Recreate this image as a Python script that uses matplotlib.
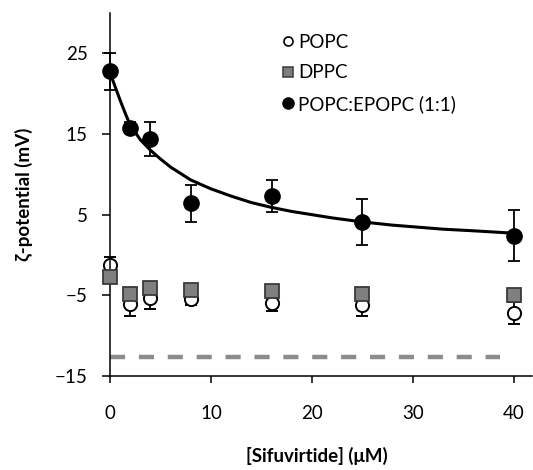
import matplotlib
matplotlib.use("Agg")
import matplotlib.pyplot as plt
from matplotlib.lines import Line2D

plt.rcParams['font.family'] = ['Lato', 'DejaVu Sans']

# peptide concentration (uM)
conc = [0, 2, 4, 8, 16, 25, 40]

# zeta potential (mV)
popc = [-1.2, -6.1, -5.3, -5.4, -6.0, -6.2, -7.2]
popc_err = [0.9, 1.5, 1.4, 0.8, 0.9, 1.3, 1.4]
dppc = [-2.7, -4.8, -4.1, -4.4, -4.5, -4.8, -5.0]
mix = [22.8, 15.8, 14.4, 6.4, 7.3, 4.1, 2.4]
mix_err = [2.3, 0.7, 2.1, 2.3, 2.0, 2.9, 3.2]

# fitted curve for POPC:EPOPC
fit_x = [0, 0.5, 1, 1.5, 2, 3, 4, 5, 6, 7, 8, 10, 12, 14, 16, 18, 20, 22, 25, 28, 30, 33, 36, 40]
fit_y = [22.6, 20.9, 19.2, 17.6, 16.1, 14.3, 13.0, 11.9, 10.9, 10.1, 9.3, 8.2, 7.3, 6.5, 5.9, 5.4, 5.0, 4.6, 4.1, 3.7, 3.5, 3.2, 3.0, 2.7]

# reference level (dashed)
ref_x = [0, 38.6]
ref_y = [-12.65, -12.65]

fig = plt.figure(figsize=(5.33, 4.7), dpi=100)
ax = fig.add_axes([110 / 533, 94 / 470, 422 / 533, 363 / 470])

ax.plot(ref_x, ref_y, color='#8c8c8c', lw=3.2, dashes=[3.4, 3.1], zorder=1)

ax.errorbar(conc, popc, yerr=popc_err, fmt='o', ms=9.5, mfc='white', mec='black',
            mew=1.4, ecolor='black', elinewidth=1.3, capsize=4.3, capthick=1.3,
            zorder=2, clip_on=False)
ax.plot(conc, dppc, 's', ms=9.5, mfc='#7f7f7f', mec='#3a3a3a', mew=1.3, zorder=3,
        clip_on=False)

ax.plot(fit_x, fit_y, color='black', lw=2.2, zorder=4, clip_on=False)
ax.errorbar(conc, mix, yerr=mix_err, fmt='o', ms=11, mfc='black', mec='black',
            ecolor='black', elinewidth=1.3, capsize=4.3, capthick=1.3, zorder=5,
            clip_on=False)

ax.set_xlim(0, 41.8)
ax.set_ylim(-15, 30)
ax.set_xticks([0, 10, 20, 30, 40])
ax.set_yticks([-15, -5, 5, 15, 25])
for s in ['top', 'right']:
    ax.spines[s].set_visible(False)
for s in ['left', 'bottom']:
    ax.spines[s].set_linewidth(1.1)
ax.tick_params(axis='y', length=6, width=1.1, pad=10, labelsize=13.5)
ax.tick_params(axis='x', length=5, width=1.1, pad=16, labelsize=13.5)

ax.set_xlabel('[Sifuvirtide] (μM)', fontsize=13.5, fontweight='bold')
ax.xaxis.set_label_coords(0.49, -0.195)
ax.set_ylabel('ζ-potential (mV)', fontsize=13.5, fontweight='bold')
ax.yaxis.set_label_coords(-0.182, 0.5)

handles = [
    Line2D([], [], ls='none', marker='o', ms=6.5, mfc='white', mec='black', mew=1.2),
    Line2D([], [], ls='none', marker='s', ms=6.5, mfc='#7f7f7f', mec='#3a3a3a', mew=1.1),
    Line2D([], [], ls='none', marker='o', ms=8, mfc='black', mec='black'),
]
ax.legend(handles, ['POPC', 'DPPC', 'POPC:EPOPC (1:1)'], frameon=False, fontsize=13.5,
          loc='upper left', bbox_to_anchor=(0.39, 0.963), handlelength=0.6,
          handletextpad=0.25, labelspacing=0.72, borderaxespad=0)

fig.savefig('out.png', dpi=100)
